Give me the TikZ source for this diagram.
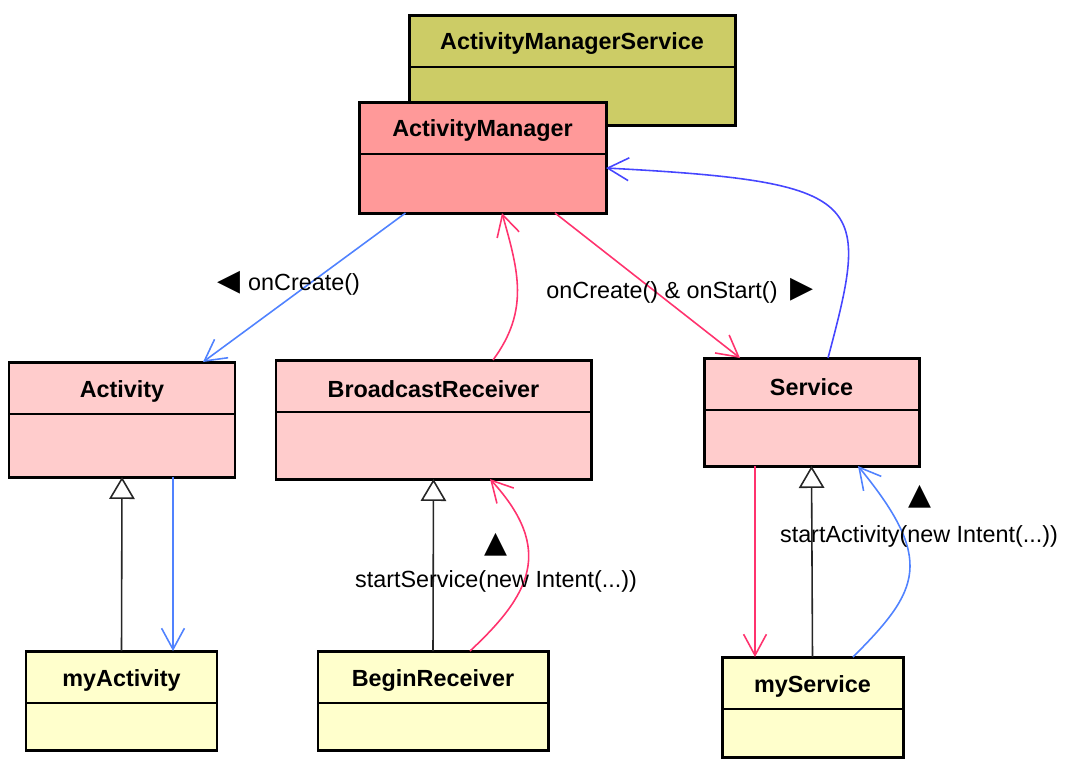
\documentclass[tikz,border=0pt]{standalone}
\usepackage{fontspec}
\setmainfont{Liberation Sans}
\newfontfamily\symfont{DejaVu Sans}
\usepackage{tikz}
\usetikzlibrary{arrows.meta}
\newlength\px
\setlength\px{0.02cm}
\definecolor{amsfill}{RGB}{204,204,102}
\definecolor{amfill}{RGB}{255,153,153}
\definecolor{basefill}{RGB}{255,204,204}
\definecolor{subfill}{RGB}{255,255,204}
\definecolor{callblue}{RGB}{80,130,255}
\definecolor{backblue}{RGB}{70,70,255}
\definecolor{callred}{RGB}{255,51,110}
\tikzset{
  uml box/.style n args={3}{draw, line width=1.7pt, fill=#1, anchor=north west,
                            inner sep=0pt, outer sep=0pt,
                            minimum width=#2\px, minimum height=#3\px},
  class name/.style={font=\fontsize{13.3}{16}\selectfont\bfseries, inner sep=0pt},
  msg/.style={font=\fontsize{13.3}{16}\selectfont, inner sep=0pt},
  dir mark/.style={font=\fontsize{17}{19}\selectfont\symfont, inner sep=0pt}
}

\begin{document}
\begin{tikzpicture}[x=1\px, y=-1\px,
  call/.style={draw=#1, line width=0.9pt,
               -{Straight Barb[length=12pt, width=13pt]}},
  generalize/.style={draw=black!85, line width=0.9pt,
               -{Triangle[length=12.5pt, width=14.5pt, fill=white]}}
]
\useasboundingbox (0,0) rectangle (1070,772);

% the classes
\node[uml box={amsfill}{326}{110}]  (ams)      at (409,15)  {};
\node[uml box={amfill}{247}{111}]   (am)       at (359,102) {};
\node[uml box={basefill}{226}{115}] (act)      at (9,362)   {};
\node[uml box={basefill}{315}{119}] (bcr)      at (276,360) {};
\node[uml box={basefill}{215}{108}] (svc)      at (704,358) {};
\node[uml box={subfill}{191}{99}]   (myact)    at (26,651)  {};
\node[uml box={subfill}{230}{99}]   (beginrcv) at (318,651) {};
\node[uml box={subfill}{181}{100}]  (mysvc)    at (722,657) {};

\foreach \n/\t in {ams/ActivityManagerService, am/ActivityManager,
                   act/Activity, bcr/BroadcastReceiver, svc/Service,
                   myact/myActivity, beginrcv/BeginReceiver, mysvc/myService}
{
  \node[class name] (\n-name) at ([yshift=-29\px]\n.north) {\t};
  \draw[line width=0.7pt] ([yshift=-52\px]\n.north west)
                       -- ([yshift=-52\px]\n.north east);
}

% the calls
\draw[call=callblue] ([xshift=-77\px]am.south) -- ([xshift=81\px]act.north);
\draw[call=callred]  ([xshift=72.5\px]am.south) -- ([xshift=-71.5\px]svc.north);
\draw[call=callred]  ([xshift=59.5\px]bcr.north)
      .. controls +(37,-50) and +(16,57) .. ([xshift=19.5\px]am.south);
\draw[call=backblue] ([xshift=16.5\px]svc.north)
      .. controls +(42,-158) and +(264,14) .. ([yshift=-10.5\px]am.east);
\draw[call=callblue] ([xshift=51\px]act.south) -- ([xshift=51.5\px]myact.north);
\draw[call=callred]  ([xshift=37\px]beginrcv.north)
      .. controls +(60,-56) and +(65,71) .. ([xshift=56.5\px]bcr.south);
\draw[call=callred]  ([xshift=-56.5\px]svc.south) -- ([xshift=-57.5\px]mysvc.north);
\draw[call=callblue] ([xshift=40.5\px]mysvc.north)
      .. controls +(67,-67) and +(77,94) .. ([xshift=46.5\px]svc.south);

% inheritance
\draw[generalize] (myact.north) -- (act.south);
\draw[generalize] (beginrcv.north) -- (bcr.south);
\draw[generalize] (mysvc.north) -- (svc.south);

% the messages
\node[dir mark] (oncreate-dir) at (229,283) {◀};
\node[msg]      (oncreate)     at (304,284) {onCreate()};
\node[msg]      (onstart)      at (662,292) {onCreate() \& onStart()};
\node[dir mark] (onstart-dir)  at (802,290) {▶};
\node[dir mark] (startsvc-dir) at (496,545) {▲};
\node[msg]      (startsvc)     at (496,581) {startService(new Intent(...))};
\node[dir mark] (startact-dir) at (920,497) {▲};
\node[msg]      (startact)     at (919,536) {startActivity(new Intent(...))};
\end{tikzpicture}
\end{document}
